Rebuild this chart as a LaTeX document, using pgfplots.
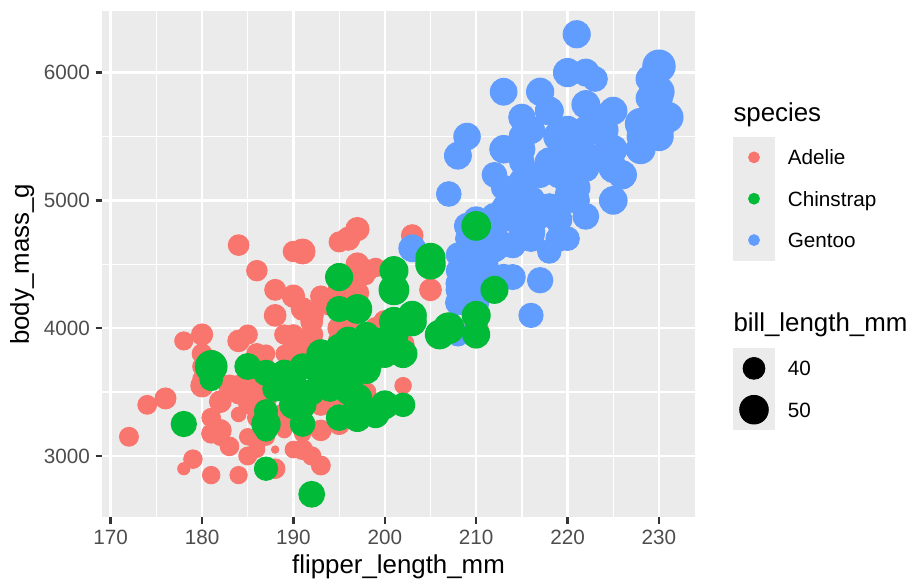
\documentclass[border=0pt]{standalone}
\usepackage{fontspec}
\setmainfont{Liberation Sans}
\usepackage{pgfplots}
\pgfplotsset{compat=1.18}
\definecolor{adelie}{HTML}{F8766D}
\definecolor{chinstrap}{HTML}{00BA38}
\definecolor{gentoo}{HTML}{619CFF}
\definecolor{gg92}{HTML}{EBEBEB}
\definecolor{gg30}{HTML}{4D4D4D}
\definecolor{gg20}{HTML}{333333}
\pgfplotsset{
  ggpt/.style={scatter, only marks, mark=*, line width=0.4pt,
    scatter/use mapped color={draw=#1, fill=#1},
    visualization depends on={1.067*(1+5*sqrt((\thisrow{b}-32.1)/27.5))+0.51 \as \ms},
    scatter/@pre marker code/.append style={/tikz/mark size=\ms}},
  gglegend/.style={legend style={at={#1}, anchor=north west, draw=none, fill=none,
    inner sep=0pt, outer sep=0pt, row sep=0pt, column sep=5.5pt,
    font=\fontsize{8.8}{10.56}\selectfont, cells={anchor=west},
    nodes={inner sep=0pt, text height=6.3pt, text depth=0pt}}},
}
\begin{document}
\begin{tikzpicture}
\useasboundingbox (0,0) rectangle (388.48pt,247.21pt);
\begin{axis}[at={(43.40pt,27.11pt)}, anchor=south west, scale only axis,
  width=252.33pt, height=215.31pt,
  xmin=169.05, xmax=233.95, ymin=2520, ymax=6480,
  axis background/.style={fill=gg92}, axis line style={draw=none},
  xtick={170,180,...,230}, minor xtick={175,185,...,225},
  ytick={3000,4000,5000,6000}, minor ytick={3500,4500,5500},
  grid=both, major grid style={white, line width=1.07pt},
  minor grid style={white, line width=0.53pt},
  tick align=outside, major tick length=2.75pt, minor tick length=0pt,
  tick style={gg20, line width=1.07pt},
  xtick pos=left, ytick pos=left, scaled ticks=false,
  /pgf/number format/assume math mode=true, /pgf/number format/1000 sep={},
  ticklabel style={font=\fontsize{8.8}{10.56}\selectfont, text=gg30, inner sep=0pt},
  xticklabel shift=2.4pt, yticklabel shift=2.2pt,
  xlabel={flipper\_length\_mm}, ylabel={body\_mass\_g},
  label style={font=\fontsize{11}{13.2}\selectfont, inner sep=0pt},
  xlabel style={at={(axis description cs:0.5,-0.1107)}, anchor=base},
  ylabel style={at={(axis description cs:-0.1231,0.5)}, anchor=base},
  gglegend={(1.06408,0.75217)}]
\addlegendimage{legend image code/.code={\fill[gg92] (-8.72pt,-8.6pt) rectangle (8.72pt,8.6pt); \fill[adelie] (0pt,0pt) circle[radius=2.3pt];}}
\addlegendentry{Adelie}
\addlegendimage{legend image code/.code={\fill[gg92] (-8.72pt,-8.6pt) rectangle (8.72pt,8.6pt); \fill[chinstrap] (0pt,0pt) circle[radius=2.3pt];}}
\addlegendentry{Chinstrap}
\addlegendimage{legend image code/.code={\fill[gg92] (-8.72pt,-8.6pt) rectangle (8.72pt,8.6pt); \fill[gentoo] (0pt,0pt) circle[radius=2.3pt];}}
\addlegendentry{Gentoo}
% Adelie
\addplot[ggpt=adelie] table[x=f,y=m] {
f m b
181 3750 39.1
186 3800 39.5
195 3250 40.3
193 3450 36.7
190 3650 39.3
181 3625 38.9
195 4675 39.2
193 3475 34.1
190 4250 42.0
186 3300 37.8
180 3700 37.8
182 3200 41.1
191 3800 38.6
198 4400 34.6
185 3700 36.6
195 3450 38.7
197 4500 42.5
184 3325 34.4
194 4200 46.0
174 3400 37.8
180 3600 37.7
189 3800 35.9
185 3950 38.2
180 3800 38.8
187 3800 35.3
183 3550 40.6
187 3200 40.5
172 3150 37.9
180 3950 40.5
178 3250 39.5
178 3900 37.2
188 3300 39.5
184 3900 40.9
195 3325 36.4
196 4150 39.2
190 3950 38.8
180 3550 42.2
181 3300 37.6
184 4650 39.8
182 3150 36.5
195 3900 40.8
186 3100 36.0
196 4400 44.1
185 3000 37.0
190 4600 39.6
182 3425 41.1
179 2975 37.5
190 3450 36.0
191 4150 42.3
186 3500 39.6
188 4300 40.1
190 3450 35.0
200 4050 42.0
187 2900 34.5
191 3700 41.4
186 3550 39.0
193 3800 40.6
181 2850 36.5
194 3750 37.6
185 3150 35.7
195 4400 41.3
185 3600 37.6
192 4050 41.1
184 2850 36.4
192 3950 41.6
195 3350 35.5
188 4100 41.1
190 3050 35.9
198 4450 41.8
190 3600 33.5
190 3900 39.7
196 3550 39.6
197 4150 45.8
190 3700 35.5
195 4250 42.8
191 3700 40.9
184 3900 37.2
187 3550 36.2
195 4000 42.1
189 3200 34.6
196 4700 42.9
187 3800 36.7
193 4200 35.1
191 3350 37.3
194 3550 41.3
190 3800 36.3
189 3500 36.9
189 3950 38.3
190 3600 38.9
202 3550 35.7
205 4300 41.1
185 3400 34.0
186 4450 39.6
187 3300 36.2
208 4300 40.8
190 3700 38.1
196 4350 40.3
178 2900 33.1
192 4100 43.2
192 3725 35.0
203 4725 41.0
183 3075 37.7
190 4250 37.8
193 2925 37.9
184 3550 39.7
199 3750 38.6
190 3900 38.2
181 3175 38.1
197 4775 43.2
198 3825 38.1
191 4600 45.6
193 3200 39.7
197 4275 42.2
191 3900 39.6
196 4075 42.7
188 2900 38.6
199 3775 37.3
189 3350 35.7
189 3325 41.1
187 3150 36.2
198 3500 37.7
176 3450 40.2
202 3875 41.4
186 3050 35.2
199 4000 40.6
191 3275 38.8
195 4300 41.5
191 3050 39.0
210 4000 44.1
190 3325 38.5
197 3500 43.1
193 3500 36.8
199 4475 37.5
187 3425 38.1
190 3900 41.1
191 3175 35.6
200 3975 40.2
185 3400 37.0
193 4250 39.7
193 3400 40.2
187 3475 40.6
188 3050 32.1
190 3725 40.7
192 3000 37.3
185 3650 39.0
190 4250 39.2
184 3475 36.6
195 3450 36.0
193 3750 37.8
187 3700 36.0
201 4000 41.5
};
% Gentoo
\addplot[ggpt=gentoo] table[x=f,y=m] {
f m b
211 4500 46.1
230 5700 50.0
210 4450 48.7
218 5700 50.0
215 5400 47.6
210 4550 46.5
211 4800 45.4
219 5200 46.7
209 4400 43.3
215 5150 46.8
214 4650 40.9
216 5550 49.0
214 4650 45.5
213 5850 48.4
210 4200 45.8
217 5850 49.3
210 4150 42.0
221 6300 49.2
209 4800 46.2
222 5350 48.7
218 5700 50.2
215 5000 45.1
213 4400 46.5
215 5050 46.3
215 5000 42.9
215 5100 46.1
216 4100 44.5
215 5650 47.8
210 4600 48.2
220 5550 50.0
222 5250 47.3
209 4700 42.8
207 5050 45.1
230 6050 59.6
220 5150 49.1
220 5400 48.4
213 4950 42.6
219 5250 44.4
208 4350 44.0
208 5350 48.7
208 3950 42.7
225 5700 49.6
210 4300 45.3
216 4750 49.6
222 5550 50.5
217 4900 43.6
210 4200 45.5
225 5400 50.5
213 5100 44.9
215 5300 45.2
210 4850 46.6
220 5300 48.5
210 4400 45.1
225 5000 50.1
217 4900 46.5
220 5050 45.0
208 4300 43.8
220 5000 45.5
208 4450 43.2
224 5550 50.4
208 4200 45.3
221 5300 46.2
214 4400 45.7
231 5650 54.3
219 4700 45.8
230 5700 49.8
214 4650 46.2
229 5800 49.5
220 4700 43.5
223 5550 50.7
216 4750 47.7
221 5000 46.4
221 5100 48.2
217 5200 46.5
216 4700 46.4
230 5800 48.6
209 4600 47.5
220 6000 51.1
215 4750 45.2
223 5950 45.2
212 4625 49.1
221 5450 52.5
212 4725 47.4
224 5350 50.0
212 4750 44.9
228 5600 50.8
218 4600 43.4
218 5300 51.3
212 4875 47.5
230 5550 52.1
218 4950 47.5
228 5400 52.2
212 4750 45.5
224 5650 49.5
214 4850 44.5
226 5200 50.8
216 4925 49.4
222 4875 46.9
203 4625 48.4
225 5250 51.1
219 4850 48.5
228 5600 55.9
215 4975 47.2
228 5500 49.1
216 4725 47.3
215 5500 46.8
210 4700 41.7
219 5500 53.4
208 4575 43.3
209 5500 48.1
216 5000 50.5
229 5950 49.8
213 4650 43.5
230 5500 51.5
217 4375 46.2
230 5850 55.1
217 4875 44.5
222 6000 48.8
214 4925 47.2
215 4850 46.8
222 5750 50.4
212 5200 45.2
213 5400 49.9
};
% Chinstrap
\addplot[ggpt=chinstrap] table[x=f,y=m] {
f m b
192 3500 46.5
196 3900 50.0
193 3650 51.3
188 3525 45.4
197 3725 52.7
198 3950 45.2
178 3250 46.1
197 3750 51.3
195 4150 46.0
198 3700 51.3
193 3800 46.6
194 3775 51.7
185 3700 47.0
201 4050 52.0
190 3575 45.9
201 4050 50.5
197 3300 50.3
181 3700 58.0
190 3450 46.4
195 4400 49.2
181 3600 42.4
191 3400 48.5
187 2900 43.2
193 3800 50.6
195 3300 46.7
197 4150 52.0
200 3400 50.5
200 3800 49.5
191 3700 46.4
205 4550 52.8
187 3200 40.9
201 4300 54.2
187 3350 42.5
203 4100 51.0
195 3600 49.7
199 3900 47.5
195 3850 47.6
210 4800 52.0
192 2700 46.9
205 4500 53.5
210 3950 49.0
187 3650 46.2
196 3550 50.9
196 3500 45.5
196 3675 50.9
201 4450 50.8
190 3400 50.1
212 4300 49.0
187 3250 51.5
198 3675 49.8
199 3325 48.1
201 3950 51.4
193 3600 45.7
203 4050 50.7
187 3350 42.5
197 3450 52.2
191 3250 45.2
203 4050 49.3
202 3800 50.2
194 3525 45.6
206 3950 51.9
189 3650 46.8
195 3650 45.7
207 4000 55.8
202 3400 43.5
193 3775 49.6
210 4100 50.8
198 3775 50.2
};
\end{axis}
\begin{axis}[at={(43.40pt,27.11pt)}, anchor=south west, scale only axis,
  width=252.33pt, height=215.31pt, hide axis,
  xmin=0, xmax=1, ymin=0, ymax=1,
  gglegend={(1.06408,0.33518)}]
\addlegendimage{legend image code/.code={\fill[gg92] (-8.72pt,-8.6pt) rectangle (8.72pt,8.6pt); \fill[black] (0pt,0pt) circle[radius=4.63pt];}}
\addlegendentry{40}
\addlegendimage{legend image code/.code={\fill[gg92] (-8.72pt,-8.6pt) rectangle (8.72pt,8.6pt); \fill[black] (0pt,0pt) circle[radius=6.08pt];}}
\addlegendentry{50}
\end{axis}
\node[anchor=base west, inner sep=0pt, font=\fontsize{11}{13.2}\selectfont] at (311.91pt,195.44pt) {species};
\node[anchor=base west, inner sep=0pt, font=\fontsize{11}{13.2}\selectfont] at (311.91pt,106.08pt) {bill\_length\_mm};
\end{tikzpicture}
\end{document}
